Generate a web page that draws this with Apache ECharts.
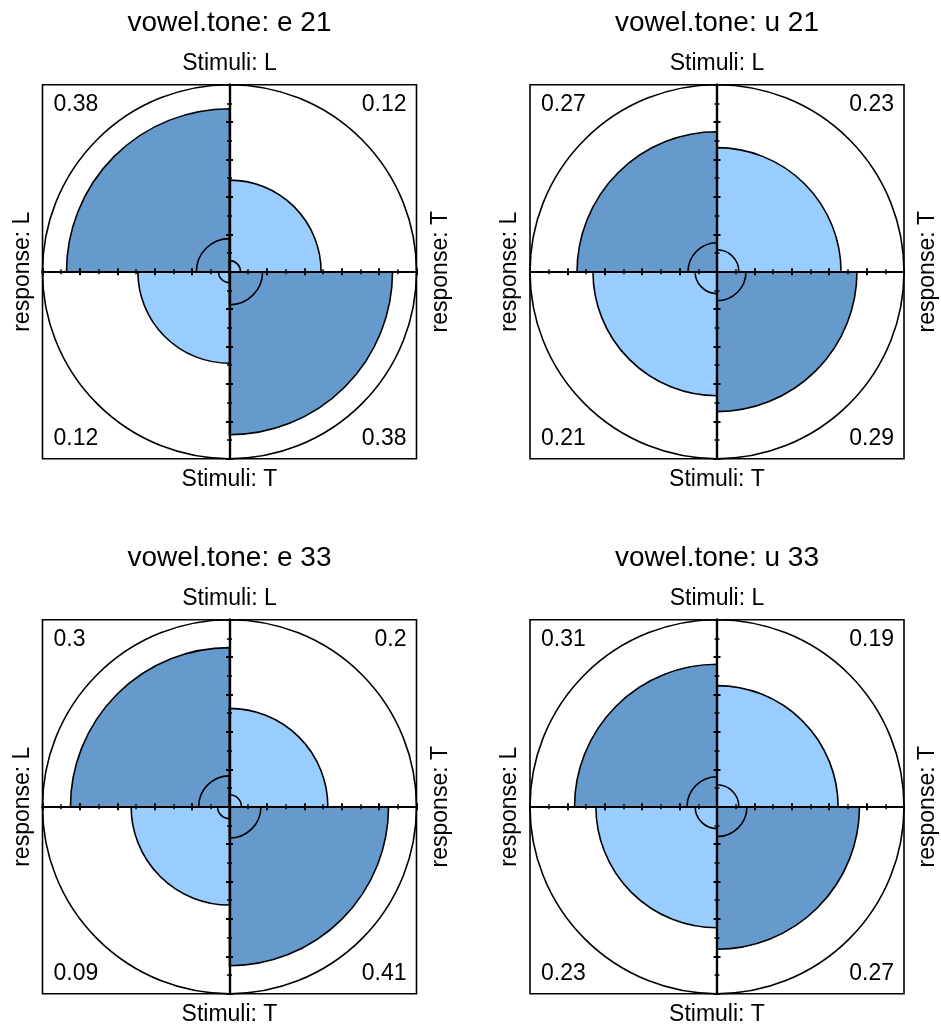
<!DOCTYPE html>
<html>
<head>
<meta charset="utf-8">
<script src="https://cdn.jsdelivr.net/npm/echarts@6/dist/echarts.min.js"></script>
<style>
  html, body { margin: 0; padding: 0; background: #ffffff; }
  #main { width: 941px; height: 1030px; }
</style>
</head>
<body>
<div id="main"></div>
<script>
// ---- data ----------------------------------------------------------------
const panelTitles = ['vowel.tone: e 21', 'vowel.tone: u 21', 'vowel.tone: e 33', 'vowel.tone: u 33'];
const stimuliLevels = ['L', 'T'];
const responseLevels = ['L', 'T'];

// cell proportions per panel, order: [stimuli L/response L, L/T, T/L, T/T]
const propE21 = [0.38, 0.12, 0.12, 0.38];
const propU21 = [0.27, 0.23, 0.21, 0.29];
const propE33 = [0.30, 0.20, 0.09, 0.41];
const propU33 = [0.31, 0.19, 0.23, 0.27];

// inner confidence rings, as a fraction of the outer circle, same cell order
const ringE21 = [0.177, 0.059, 0.059, 0.177];
const ringU21 = [0.155, 0.117, 0.117, 0.155];
const ringE33 = [0.165, 0.064, 0.064, 0.168];
const ringU33 = [0.160, 0.117, 0.117, 0.160];

const panelProps = [propE21, propU21, propE33, propU33];
const panelRings = [ringE21, ringU21, ringE33, ringU33];

// ---- helpers -------------------------------------------------------------
// Standardize a 2x2 table to equal row and column margins (odds ratio kept),
// then turn each cell into a quarter-circle radius (area proportional to cell).
function fourfoldRadii(p) {
  const s = Math.sqrt((p[0] * p[3]) / (p[1] * p[2]));
  const diag = 0.5 * s / (1 + s);
  const off = 0.5 - diag;
  const std = [diag, off, off, diag];
  return std.map(v => Math.sqrt(v / 0.5));
}

// angle categories run clockwise from the left: TL, TR, BR, BL
// cell order [LL, LT, TL, TT] -> quadrant order
function toQuadrants(arr) { return [arr[0], arr[1], arr[3], arr[2]]; }

const DARK = '#6699CC';
const LIGHT = '#99CCFF';
const quadColors = [DARK, LIGHT, DARK, LIGHT];

const FONT = "'Liberation Sans', Arial, Helvetica, sans-serif";

// ---- layout --------------------------------------------------------------
const R = 187;
const centers = [[229.5, 271.7], [717, 271.7], [229.5, 806.7], [717, 806.7]];

const polar = [], angleAxis = [], radiusAxis = [], grid = [], xAxis = [], yAxis = [];
const series = [], graphics = [];

panelProps.forEach((p, i) => {
  const [cx, cy] = centers[i];
  polar.push({ center: [cx, cy], radius: R });
  angleAxis.push({
    polarIndex: i, type: 'category', data: ['TL', 'TR', 'BR', 'BL'],
    startAngle: 180, clockwise: true, boundaryGap: true,
    axisLine: { show: true, lineStyle: { color: '#000', width: 1.6 } },
    axisTick: { show: false }, axisLabel: { show: false }, splitLine: { show: false }
  });
  radiusAxis.push({
    polarIndex: i, type: 'value', min: 0, max: 1,
    axisLine: { show: false }, axisTick: { show: false },
    axisLabel: { show: false }, splitLine: { show: false }
  });

  const radii = toQuadrants(fourfoldRadii(p));
  series.push({
    type: 'bar', coordinateSystem: 'polar', polarIndex: i,
    barCategoryGap: '0%', barGap: '-100%', silent: true, z: 2,
    itemStyle: { borderColor: '#000', borderWidth: 1.6 },
    data: radii.map((r, k) => ({ value: r, itemStyle: { color: quadColors[k] } }))
  });
  series.push({
    type: 'bar', coordinateSystem: 'polar', polarIndex: i,
    barCategoryGap: '0%', barGap: '-100%', silent: true, z: 3,
    itemStyle: { color: 'rgba(0,0,0,0)', borderColor: '#000', borderWidth: 1.6 },
    data: toQuadrants(panelRings[i])
  });

  // cartesian frame supplying the box and the ticked cross axes
  grid.push({
    left: cx - R, top: cy - R, width: 2 * R, height: 2 * R,
    show: true, borderColor: '#000', borderWidth: 1.6, backgroundColor: 'transparent'
  });
  const tickAxis = (position, gi) => ({
    gridIndex: gi, type: 'value', min: -1, max: 1, interval: 0.2, position, z: 10,
    axisLine: { show: true, onZero: true, lineStyle: { color: '#000', width: 2.2 } },
    axisTick: { show: true, length: 3.5, lineStyle: { color: '#000', width: 2 } },
    minorTick: { show: true, splitNumber: 2, length: 2.5, lineStyle: { color: '#000', width: 1.5 } },
    axisLabel: { show: false }, splitLine: { show: false }, minorSplitLine: { show: false }
  });
  xAxis.push(tickAxis('bottom', i), tickAxis('top', i));
  yAxis.push(tickAxis('left', i), tickAxis('right', i));

  // texts
  graphics.push({
    type: 'text', x: cx, y: cy - R - 61,
    style: { text: panelTitles[i], font: `28px ${FONT}`, fill: '#000', textAlign: 'center', textVerticalAlign: 'middle' }
  });
  graphics.push({
    type: 'text', x: cx, y: cy - R - 21,
    style: { text: 'Stimuli: ' + stimuliLevels[0], font: `23px ${FONT}`, fill: '#000', textAlign: 'center', textVerticalAlign: 'middle' }
  });
  graphics.push({
    type: 'text', x: cx, y: cy + R + 21,
    style: { text: 'Stimuli: ' + stimuliLevels[1], font: `23px ${FONT}`, fill: '#000', textAlign: 'center', textVerticalAlign: 'middle' }
  });
  graphics.push({
    type: 'text', x: cx - R - 20, y: cy, rotation: Math.PI / 2,
    style: { text: 'response: ' + responseLevels[0], font: `23px ${FONT}`, fill: '#000', textAlign: 'center', textVerticalAlign: 'middle' }
  });
  graphics.push({
    type: 'text', x: cx + R + 24, y: cy, rotation: Math.PI / 2,
    style: { text: 'response: ' + responseLevels[1], font: `23px ${FONT}`, fill: '#000', textAlign: 'center', textVerticalAlign: 'middle' }
  });
  const corner = (text, x, y, align) => ({
    type: 'text', x, y, z: 20,
    style: { text: String(text), font: `23px ${FONT}`, fill: '#000', textAlign: align, textVerticalAlign: 'middle' }
  });
  graphics.push(corner(p[0], cx - R + 11, cy - R + 20, 'left'));
  graphics.push(corner(p[1], cx + R - 10, cy - R + 20, 'right'));
  graphics.push(corner(p[2], cx - R + 11, cy + R - 20, 'left'));
  graphics.push(corner(p[3], cx + R - 10, cy + R - 20, 'right'));
});

const chart = echarts.init(document.getElementById('main'), null, { renderer: 'canvas' });
chart.setOption({
  animation: false,
  backgroundColor: '#ffffff',
  polar, angleAxis, radiusAxis, grid, xAxis, yAxis,
  series,
  graphic: graphics
});
</script>
</body>
</html>
